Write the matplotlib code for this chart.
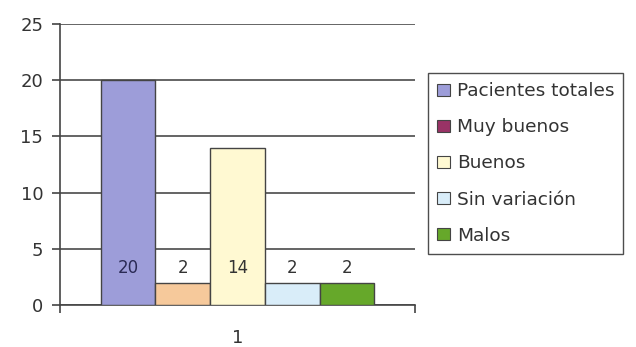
import matplotlib
matplotlib.use("Agg")
import matplotlib.pyplot as plt
import numpy as np

categories = ["1"]
series = ["Pacientes totales", "Muy buenos", "Buenos", "Sin variación", "Malos"]
values = [20, 2, 14, 2, 2]
bar_colors = ["#9d9dd9", "#f6c99b", "#fff9d2", "#d9edf9", "#66a82a"]
legend_colors = ["#9d9dd9", "#993366", "#fff9d2", "#d9edf9", "#66a82a"]
label_colors = ["#2a2a55", "#333333", "#333333", "#333333", "#333333"]
y_ticks = [0, 5, 10, 15, 20, 25]

plt.rcParams['font.family'] = ['DejaVu Sans']

fig = plt.figure(figsize=(6.36, 3.47), dpi=100)
ax = fig.add_axes([60/636, 1-305/347, 355/636, (305-24)/347])

n = len(series)
bw = 0.1543
offsets = (np.arange(n) - (n-1)/2) * bw
for i in range(n):
    ax.bar(1 + offsets[i], values[i], width=bw, color=bar_colors[i],
           edgecolor="#444444", linewidth=1, zorder=3)
    ax.text(1 + offsets[i], 3.3, str(values[i]), ha="center", va="center",
            fontsize=12, color=label_colors[i], zorder=4)

ax.set_xlim(0.5, 1.5)
ax.set_ylim(0, 25)
ax.set_yticks(y_ticks)
ax.set_xticks([1.0])
ax.set_xticklabels(categories)
ax.yaxis.grid(True, color="#4a4a4a", linewidth=1.2, zorder=0)
ax.set_axisbelow(True)
for s in ["top", "right"]:
    ax.spines[s].set_visible(False)
for s in ["left", "bottom"]:
    ax.spines[s].set_color("#444444")
    ax.spines[s].set_linewidth(1.2)
ax.tick_params(axis="y", length=6, width=1.2, color="#444444", labelsize=13,
               labelcolor="#333333", pad=6)
ax.tick_params(axis="x", length=0, labelsize=13, labelcolor="#333333", pad=17)
ax.set_xticks([0.5, 1.5], minor=True)
ax.tick_params(axis="x", which="minor", length=6, width=1.2, color="#444444")

handles = [plt.Rectangle((0, 0), 1, 1, facecolor=legend_colors[i],
                         edgecolor="#444444", linewidth=0.8) for i in range(n)]
leg = ax.legend(handles, series, loc="upper left",
                bbox_to_anchor=(428/636, 1-73/347), bbox_transform=fig.transFigure,
                borderaxespad=0, fontsize=13.3, frameon=True, fancybox=False,
                handlelength=0.7, handleheight=0.6, handletextpad=0.35,
                labelspacing=0.98, borderpad=0.5)
leg.get_frame().set_edgecolor("#222222")
leg.get_frame().set_linewidth(1.0)
for t in leg.get_texts():
    t.set_color("#333333")

fig.savefig("out.png", dpi=100)
